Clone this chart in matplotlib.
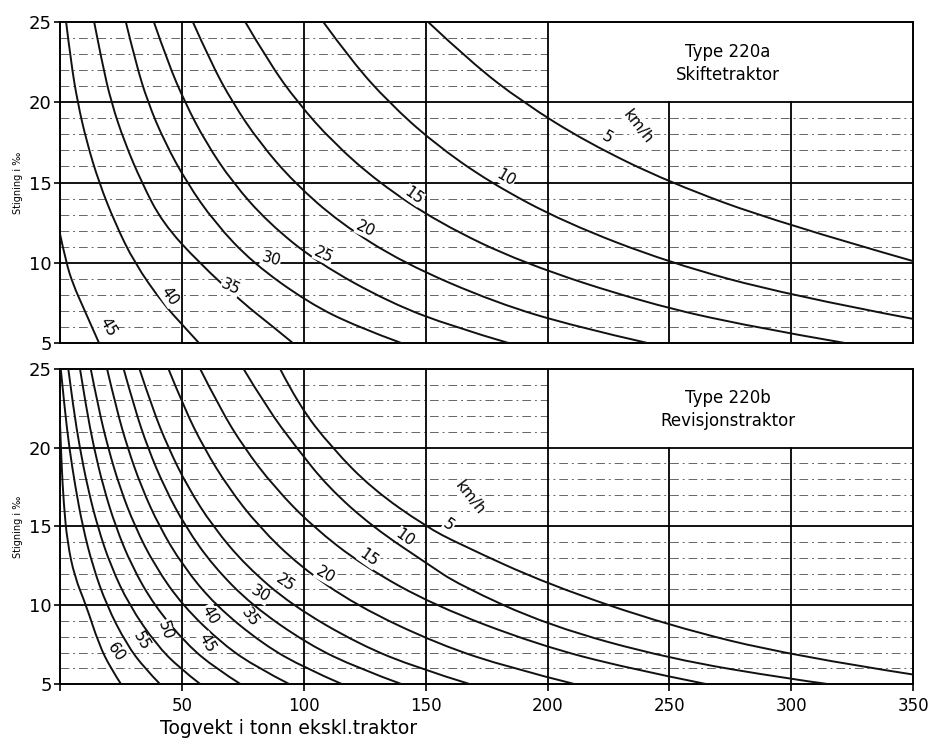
import matplotlib
matplotlib.use('Agg')
from matplotlib import pyplot as plt
from matplotlib.patches import Rectangle, PathPatch
from matplotlib.path import Path

# ---- data: gradient (promille) vs train weight (t), one curve per speed
y_std = [25, 22.5, 20, 17.5, 15, 12.5, 10, 7.5, 6, 5]

# Type 220a Skiftetraktor
a_speeds = [5, 10, 15, 20, 25, 30, 35, 40, 45]
a_x = [
    [151, 168.5, 189.8, 216.2, 250, 294.7, 350],
    [108, 120, 134.8, 153, 176.3, 207.2, 250, 298.2, 350],
    [76, 85.6, 97.4, 112, 130.7, 155.3, 189.5, 240, 283.7, 322],
    [54.5, 61.8, 70.7, 81.8, 96, 114.7, 140.6, 178.9, 212, 241],
    [38.5, 44.2, 51.2, 59.8, 70.8, 85.4, 105.7, 135.5, 161.4, 184],
    [27, 31, 36, 43, 52, 63.5, 79, 102, 122, 140],
    [14, 17.2, 21, 26.5, 33.5, 42, 57, 75, 87.5, 95.5],
    [2.5, 4.5, 7.2, 11, 16, 22.5, 30.5, 42, 51, 57],
    [0, 2.5, 5.5, 9.3, 12.5, 16],
]
a_y = [
    [25, 22.5, 20, 17.5, 15, 12.5, 10.1],
    [25, 22.5, 20, 17.5, 15, 12.5, 10, 8, 6.5],
    y_std, y_std, y_std, y_std, y_std, y_std,
    [11.8, 10, 8.6, 7.3, 6.2, 5],
]
a_lab_x = [224.5, 182.8, 145, 125.4, 108.2, 86.5, 70, 44.7, 19.7]
a_lab_y = [17.8, 15.3, 14.2, 12.1, 10.5, 10.2, 8.5, 7.9, 6.0]
a_lab_rot = [-30, -30, -35, -25, -25, -15, -25, -55, -60]

# Type 220b Revisjonstraktor
b_speeds = [5, 10, 15, 20, 25, 30, 35, 40, 45, 50, 55, 60]
b_x = [
    [90.3, 97.9, 111.5, 128, 150, 163.6, 200.5, 250, 300, 350],
    [75.3, 85, 97, 110, 128, 151, 163.6, 200.5, 250, 300, 315],
    [57.5, 65.6, 75.5, 87.9, 103.6, 124.4, 153.3, 195.8, 232.7, 265],
    [44.5, 51, 59, 68.9, 81.5, 98.2, 121.3, 155.5, 185.1, 211],
    [32.6, 37.9, 44.4, 52.4, 62.7, 76.3, 95.1, 122.9, 146.9, 168],
    [26.1, 30.6, 36, 42.8, 51.4, 62.8, 78.7, 102, 122.3, 140],
    [19.3, 23.1, 27.7, 33.4, 40.7, 50.4, 63.7, 83.5, 100.6, 115.6],
    [12.6, 15.8, 19.7, 24.5, 30.7, 38.9, 50.2, 66.9, 81.3, 94],
    [8.2, 10.8, 13.9, 17.8, 22.8, 29.4, 38.6, 52.1, 63.8, 74],
    [3.4, 5.5, 8.1, 11.3, 15.4, 20.8, 28.4, 39.5, 49.1, 57.5],
    [0.3, 1.9, 3.8, 6.3, 9.3, 13.4, 19.1, 27.4, 34.7, 41],
    [0, 0.6, 1.5, 3, 6, 10.7, 16, 20.8, 25],
]
b_y = [
    [25, 22.7, 20, 17.4, 15, 13.9, 11.3, 8.7, 6.8, 5.6],
    [25, 22.5, 20, 17.5, 15, 12.6, 11.3, 8.7, 6.6, 5.3, 5],
    y_std, y_std, y_std, y_std, y_std, y_std, y_std, y_std, y_std,
    [21.5, 19, 16.5, 14, 11.8, 10, 7.5, 6, 5],
]
b_lab_x = [159.5, 141.6, 126.6, 108.8, 92.4, 82.1, 78, 61.6, 60.2, 43.1, 33.5, 23.2]
b_lab_y = [15.1, 14.3, 13.0, 11.95, 11.4, 10.7, 9.2, 9.4, 7.6, 8.4, 7.7, 7.0]
b_lab_rot = [-35, -35, -35, -30, -35, -30, -55, -60, -60, -70, -60, -55]

x_ticks = [0, 50, 100, 150, 200, 250, 300, 350]
x_ticklabels = ['', '50', '100', '150', '200', '250', '300', '350']
y_ticks = [5, 10, 15, 20, 25]


def smooth_path(xs, ys):
    # quadratic B-spline style path: the read points act as control points
    pts = list(zip(xs, ys))
    verts = [pts[0]]
    codes = [Path.MOVETO]
    for i in range(1, len(pts) - 1):
        if i < len(pts) - 2:
            end = ((pts[i][0] + pts[i + 1][0]) / 2, (pts[i][1] + pts[i + 1][1]) / 2)
        else:
            end = pts[i + 1]
        verts += [pts[i], end]
        codes += [Path.CURVE3, Path.CURVE3]
    if len(pts) == 2:
        verts.append(pts[1])
        codes.append(Path.LINETO)
    return Path(verts, codes)


def panel(ax, xs, ys, speeds, lx, ly, lrot, kmh_xy, title):
    ax.set_xlim(0, 350)
    ax.set_ylim(5, 25)

    # faint dashed minor lines every 1 promille, kept out of the title box
    for v in range(6, 25):
        if v % 5 == 0:
            continue
        right = 200 if v > 20 else 350
        ax.plot([0, right], [v, v], color='0.4', lw=0.7,
                dashes=(9, 4, 2, 4), zorder=1)

    # major grid
    for gx in [50, 100, 150, 200]:
        ax.plot([gx, gx], [5, 25], color='black', lw=1.3, zorder=2)
    for gx in [250, 300]:
        ax.plot([gx, gx], [5, 20], color='black', lw=1.3, zorder=2)
    for gy in [10, 15, 20]:
        ax.plot([0, 350], [gy, gy], color='black', lw=1.3, zorder=2)

    ax.add_patch(Rectangle((200, 20), 150, 5, facecolor='white',
                           edgecolor='none', zorder=1.5))

    for cx, cy in zip(xs, ys):
        ax.add_patch(PathPatch(smooth_path(cx, cy), facecolor='none',
                               edgecolor='#111111', lw=1.4, zorder=3))

    for s, tx, ty, r in zip(speeds, lx, ly, lrot):
        ax.text(tx, ty, str(s), fontsize=11, rotation=r, ha='center',
                va='center', zorder=4,
                bbox=dict(facecolor='white', edgecolor='none', pad=0.3))
    ax.text(kmh_xy[0], kmh_xy[1], 'km/h', fontsize=11, rotation=-52,
            ha='center', va='center', zorder=4,
            bbox=dict(facecolor='white', edgecolor='none', pad=0.3))

    ax.text(274, 22.4, title, fontsize=12, ha='center', va='center',
            linespacing=1.35, zorder=4)

    for sp in ax.spines.values():
        sp.set_linewidth(1.4)
    ax.set_yticks(y_ticks)
    ax.set_yticklabels([str(v) for v in y_ticks], fontsize=13)
    ax.tick_params(axis='y', direction='out', length=4, width=1.2, pad=2)
    ax.set_ylabel('Stigning i ‰', fontsize=7, labelpad=4)


fig = plt.figure(figsize=(9.32, 7.46), dpi=100)
ax1 = fig.add_axes([0.0644, 0.5402, 0.9155, 0.4303])
ax2 = fig.add_axes([0.0644, 0.0831, 0.9155, 0.4223])

panel(ax1, a_x, a_y, a_speeds, a_lab_x, a_lab_y, a_lab_rot, (237, 18.5),
      'Type 220a\nSkiftetraktor')
panel(ax2, b_x, b_y, b_speeds, b_lab_x, b_lab_y, b_lab_rot, (168, 16.8),
      'Type 220b\nRevisjonstraktor')

ax1.set_xticks([])
ax2.set_xticks(x_ticks)
ax2.set_xticklabels(x_ticklabels, fontsize=12)
ax2.tick_params(axis='x', direction='out', length=5, width=1.2, pad=4)

fig.text(0.172, 0.024, 'Togvekt i tonn ekskl.traktor', fontsize=13.5,
         ha='left', va='center')

fig.savefig('out.png', dpi=100, facecolor='white')
